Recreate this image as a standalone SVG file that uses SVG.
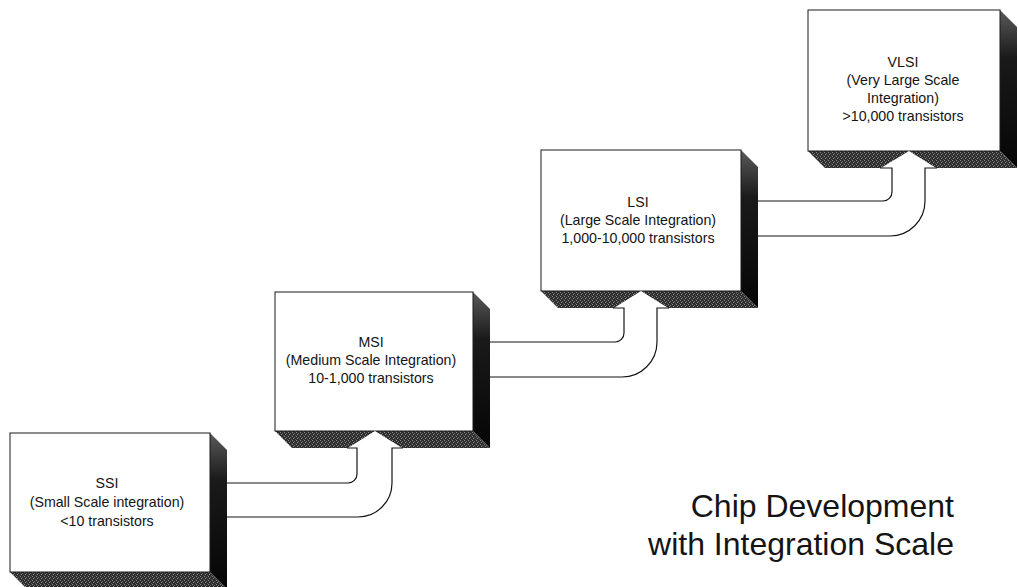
<svg xmlns="http://www.w3.org/2000/svg" width="1018" height="587" viewBox="0 0 1018 587">
  <defs>
    <linearGradient id="sideGrad" x1="0" y1="0" x2="0" y2="1">
      <stop offset="0" stop-color="#5a5a5a"/>
      <stop offset="0.3" stop-color="#1a1a1a"/>
      <stop offset="1" stop-color="#050505"/>
    </linearGradient>
    <pattern id="dither" width="4" height="4" patternUnits="userSpaceOnUse">
      <rect width="4" height="4" fill="#2c2c2c"/>
      <rect x="0" y="0" width="1" height="1" fill="#8c8c8c"/>
      <rect x="2" y="1" width="1" height="1" fill="#6e6e6e"/>
      <rect x="1" y="2" width="1" height="1" fill="#969696"/>
      <rect x="3" y="3" width="1" height="1" fill="#5a5a5a"/>
    </pattern>
  </defs>
  <style>
    .side { fill: url(#sideGrad); }
    .bottom { fill: url(#dither); }
    .face { fill: #ffffff; stroke: #1a1a1a; stroke-width: 1; }
    .label { font-family: "Liberation Sans", Arial, sans-serif; font-size: 14.2px; fill: #141414; text-anchor: middle; }
    .title { font-family: "Liberation Sans", Arial, sans-serif; font-size: 32px; fill: #141414; text-anchor: end; }
    .pipe-fill { fill: #ffffff; stroke: none; }
    .pipe-line { fill: none; stroke: #141414; stroke-width: 1.2; }
    .head { fill: #ffffff; stroke: none; }
  </style>
  <rect width="1018" height="587" fill="#ffffff"/>

  <g id="ssi">
    <polygon class="side" points="210,433 227,450 227,589 210,572"/>
    <polygon class="bottom" points="10,572 210,572 227,589 27,589"/>
    <rect class="face" x="10" y="433" width="200" height="139"/>
    <text class="label" x="107" y="488">SSI</text>
    <text class="label" x="107" y="507">(Small Scale integration)</text>
    <text class="label" x="107" y="526">&lt;10 transistors</text>
  </g>

  <g id="msi">
    <polygon class="side" points="473,292 490,309 490,448 473,431"/>
    <polygon class="bottom" points="275,431 473,431 490,448 292,448"/>
    <rect class="face" x="275" y="292" width="198" height="139"/>
    <text class="label" x="371" y="347">MSI</text>
    <text class="label" x="371" y="365">(Medium Scale Integration)</text>
    <text class="label" x="371" y="383">10-1,000 transistors</text>
  </g>

  <g id="lsi">
    <polygon class="side" points="741,150 758,167 758,308 741,291"/>
    <polygon class="bottom" points="541,291 741,291 758,308 558,308"/>
    <rect class="face" x="541" y="150" width="200" height="141"/>
    <text class="label" x="638" y="207">LSI</text>
    <text class="label" x="638" y="225">(Large Scale Integration)</text>
    <text class="label" x="638" y="243">1,000-10,000 transistors</text>
  </g>

  <g id="vlsi">
    <polygon class="side" points="1000,10 1017,27 1017,168 1000,151"/>
    <polygon class="bottom" points="808,151 1000,151 1017,168 825,168"/>
    <rect class="face" x="808" y="10" width="192" height="141"/>
    <text class="label" x="903" y="67">VLSI</text>
    <text class="label" x="903" y="85">(Very Large Scale</text>
    <text class="label" x="903" y="103">Integration)</text>
    <text class="label" x="903" y="121">&gt;10,000 transistors</text>
  </g>

  <g id="connectors">
    <g id="ssi-msi">
      <path class="pipe-fill" d="M227,483 H348 A9,9 0 0 0 357,474 V448 H392 V483 A34,34 0 0 1 358,517 H227 Z"/>
      <polygon class="head" points="347,448.6 375,431 403,448.6"/>
      <path class="pipe-line" d="M227,483 H348 A9,9 0 0 0 357,474 V448 H347"/>
      <path class="pipe-line" d="M403,448 H392 V483 A34,34 0 0 1 358,517 H227"/>
    </g>
    <g id="msi-lsi">
      <path class="pipe-fill" d="M490,342 H615 A9,9 0 0 0 624,333 V308 H657 V342 A35,35 0 0 1 622,377 H490 Z"/>
      <polygon class="head" points="613,308.6 641,291 669,308.6"/>
      <path class="pipe-line" d="M490,342 H615 A9,9 0 0 0 624,333 V308 H613"/>
      <path class="pipe-line" d="M669,308 H657 V342 A35,35 0 0 1 622,377 H490"/>
    </g>
    <g id="lsi-vlsi">
      <path class="pipe-fill" d="M758,201 H883 A9,9 0 0 0 892,192 V168 H925 V201 A35,35 0 0 1 890,236 H758 Z"/>
      <polygon class="head" points="880,168.6 909,151 937,168.6"/>
      <path class="pipe-line" d="M758,201 H883 A9,9 0 0 0 892,192 V168 H880"/>
      <path class="pipe-line" d="M937,168 H925 V201 A35,35 0 0 1 890,236 H758"/>
    </g>
  </g>

  <g id="title">
    <text class="title" x="954" y="517">Chip Development</text>
    <text class="title" x="954" y="555">with Integration Scale</text>
  </g>
</svg>
